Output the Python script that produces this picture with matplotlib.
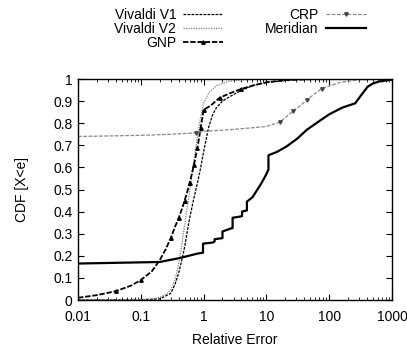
"""CDF of relative error for several network coordinate systems."""

import matplotlib

matplotlib.use("Agg")
import matplotlib.pyplot as plt
from matplotlib.ticker import FixedLocator, LogLocator, NullFormatter

plt.rcParams["font.family"] = ["Liberation Sans", "DejaVu Sans"]

# Vivaldi V1
v1_x = [0.01, 0.1, 0.2, 0.3, 0.35, 0.4, 0.45, 0.5, 0.55, 0.6, 0.7, 0.8, 0.9, 1.0,
        1.2, 1.4, 1.6, 2.0, 2.6, 3.8, 6.0, 10.0, 30.0, 100.0, 1000.0]
v1_y = [0.0, 0.001, 0.005, 0.03, 0.07, 0.12, 0.18, 0.24, 0.31, 0.37, 0.46, 0.53, 0.60, 0.67,
        0.78, 0.84, 0.87, 0.90, 0.92, 0.945, 0.97, 0.985, 0.997, 1.0, 1.0]

# Vivaldi V2
v2_x = [0.01, 0.1, 0.15, 0.2, 0.25, 0.3, 0.35, 0.4, 0.45, 0.5, 0.6, 0.7, 0.8, 0.9, 1.0,
        1.2, 1.6, 2.5, 5.0, 10.0, 1000.0]
v2_y = [0.0, 0.002, 0.005, 0.012, 0.025, 0.045, 0.09, 0.16, 0.25, 0.34, 0.49, 0.63, 0.74, 0.83, 0.89,
        0.935, 0.97, 0.99, 0.998, 1.0, 1.0]

# GNP
gnp_x = [0.01, 0.02, 0.04, 0.07, 0.1, 0.15, 0.2, 0.25, 0.3, 0.35, 0.4, 0.45, 0.5, 0.55, 0.6,
         0.65, 0.7, 0.75, 0.8, 0.85, 0.9, 0.95, 1.0, 1.3, 1.8, 2.6, 4.0, 6.0, 10.0, 20.0, 50.0, 1000.0]
gnp_y = [0.01, 0.022, 0.04, 0.065, 0.09, 0.13, 0.18, 0.23, 0.28, 0.33, 0.37, 0.41, 0.45, 0.49, 0.53,
         0.57, 0.61, 0.65, 0.69, 0.735, 0.78, 0.82, 0.86, 0.88, 0.915, 0.935, 0.955, 0.97, 0.985, 0.995, 0.999, 1.0]
gnp_marks = [2, 4, 8, 10, 12, 14, 16, 18, 20, 22, 24, 26]

# CRP
crp_x = [0.01, 0.1, 0.3, 0.6, 0.75, 1.0, 3.0, 10.0, 16.5, 20.0, 27.0, 35.0, 44.0, 60.0, 77.0,
         150.0, 300.0, 1000.0]
crp_y = [0.74, 0.745, 0.75, 0.755, 0.757, 0.763, 0.772, 0.785, 0.805, 0.825, 0.857, 0.88, 0.905, 0.935, 0.957,
         0.985, 0.997, 1.0]
crp_marks = [4, 8, 10, 12, 14]

# Meridian
mer_x = [0.01, 0.2, 0.42, 0.8, 0.98, 0.98, 1.4, 1.5, 1.5, 2.0, 2.0, 2.8, 2.9, 2.9, 3.9, 4.1, 4.1,
         4.8, 4.9, 4.9, 6.0, 6.5, 7.2, 8.0, 9.0, 10.0, 10.8, 10.8, 14.7, 21.0, 31.0, 44.0, 70.0,
         100.0, 160.0, 260.0, 330.0, 410.0, 500.0, 650.0, 1000.0]
mer_y = [0.165, 0.172, 0.19, 0.21, 0.214, 0.255, 0.26, 0.265, 0.275, 0.28, 0.31, 0.325, 0.325, 0.372,
         0.378, 0.38, 0.40, 0.405, 0.405, 0.445, 0.465, 0.48, 0.50, 0.52, 0.545, 0.57, 0.59, 0.655,
         0.67, 0.695, 0.73, 0.77, 0.81, 0.84, 0.87, 0.89, 0.93, 0.965, 0.98, 0.99, 0.997]

x_ticks = [0.01, 0.1, 1, 10, 100, 1000]
x_labels = ["0.01", "0.1", "1", "10", "100", "1000"]
y_ticks = [0, 0.1, 0.2, 0.3, 0.4, 0.5, 0.6, 0.7, 0.8, 0.9, 1]
y_labels = ["0", "0.1", "0.2", "0.3", "0.4", "0.5", "0.6", "0.7", "0.8", "0.9", "1"]

fig = plt.figure(figsize=(4.07, 3.49), dpi=100)
ax = fig.add_axes([0.1916, 0.1404, 0.7714, 0.6332])

ax.plot(v1_x, v1_y, color="black", lw=0.9, dashes=(2.2, 1.0), label="Vivaldi V1")
ax.plot(v2_x, v2_y, color="#808080", lw=0.9, dashes=(1.0, 1.0), label="Vivaldi V2")
ax.plot(gnp_x, gnp_y, color="black", lw=1.3, dashes=(3.0, 1.0), marker="^", ms=2.5,
        markevery=gnp_marks, label="GNP")
ax.plot(crp_x, crp_y, color="#8a8a8a", lw=0.9, dashes=(3.0, 1.2), marker="v", ms=2.5,
        mfc="#444444", mec="#444444", markevery=crp_marks, label="CRP")
ax.plot(mer_x, mer_y, color="black", lw=1.6, label="Meridian")

ax.set_xscale("log")
ax.set_xlim(0.01, 1000)
ax.set_ylim(0, 1)
ax.xaxis.set_major_locator(FixedLocator(x_ticks))
ax.set_xticklabels(x_labels)
ax.xaxis.set_minor_locator(LogLocator(base=10, subs=range(2, 10)))
ax.xaxis.set_minor_formatter(NullFormatter())
ax.set_yticks(y_ticks)
ax.set_yticklabels(y_labels)
ax.tick_params(which="both", direction="in", top=True, right=True, labelsize=10)
ax.tick_params(axis="x", which="major", pad=7)
ax.tick_params(axis="y", which="major", pad=4)
ax.tick_params(which="major", length=4, width=0.8)
ax.tick_params(which="minor", length=2, width=0.6)
for spine in ax.spines.values():
    spine.set_linewidth(1.0)

ax.set_xlabel("Relative Error", fontsize=10, labelpad=7)
ax.set_ylabel("CDF [X<e]", fontsize=10, labelpad=17)

handles, labels = ax.get_legend_handles_labels()
fig.legend(handles, labels, ncol=2, loc="upper center", bbox_to_anchor=(0.59, 1.0),
           frameon=False, markerfirst=False, numpoints=1, fontsize=10,
           handlelength=2.9, handletextpad=0.5, columnspacing=3.0, labelspacing=0.0,
           borderaxespad=0.2)

fig.savefig("out.png", dpi=100)
plt.close(fig)
